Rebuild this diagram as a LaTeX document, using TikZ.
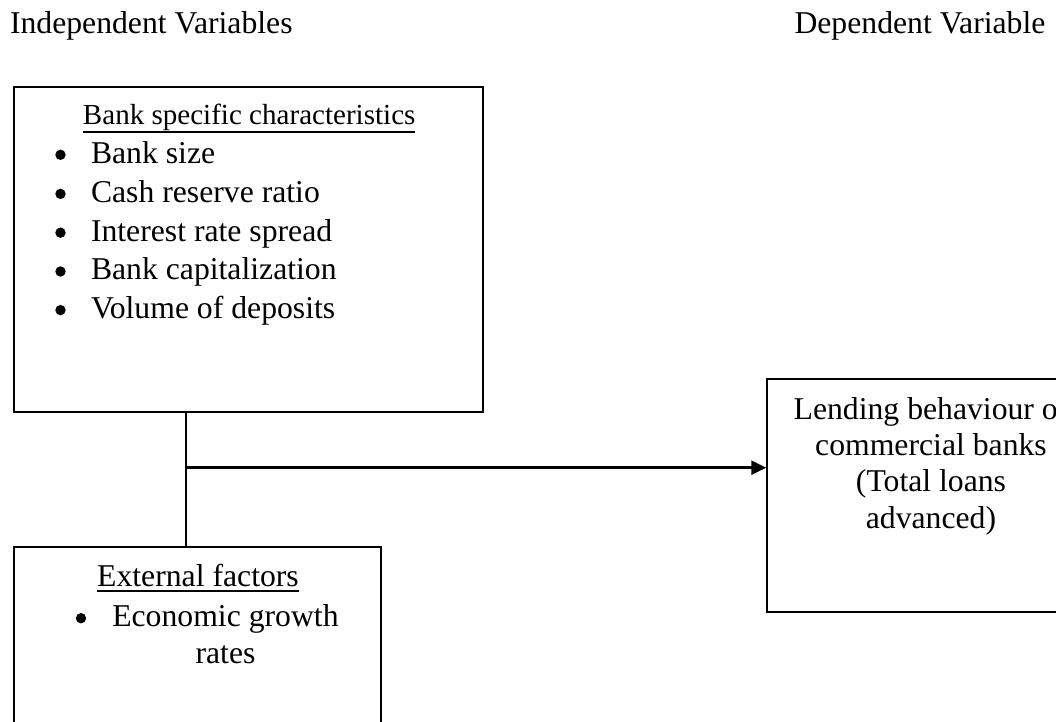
\documentclass[tikz,border=0pt]{standalone}
\usepackage{fontspec}
\setmainfont{Liberation Serif}
\usetikzlibrary{arrows.meta,fit}
\begin{document}
\begin{tikzpicture}[x=0.3785pt,y=-0.3785pt,
  box/.style={draw,line width=0.75pt,inner sep=0pt},
  txt/.style={inner sep=0pt,outer sep=0pt,font=\fontsize{12}{14}\selectfont},
  ttl/.style={inner sep=0pt,outer sep=0pt,font=\fontsize{11}{13}\selectfont},
  uline/.style={line width=0.6pt},
  link/.style={line width=0.75pt},
  arr/.style={line width=1pt,-{Triangle[length=5.7pt,width=5.3pt]}},
  bul/.style={fill=black}]
\clip (0,0) rectangle (1056,722);
\fill[white] (0,0) rectangle (1056,722);
% headers
\node[txt,anchor=base west] (h1) at (10,33.3) {Independent Variables};
\node[txt,anchor=base west] (h2) at (794.5,33.3) {Dependent Variable};
% boxes
\coordinate (b1a) at (14,87);      \coordinate (b1b) at (483,412);
\coordinate (b2a) at (14,547);     \coordinate (b2b) at (381,790);
\coordinate (b3a) at (767.3,379.3); \coordinate (b3b) at (1094.7,611.7);
\node[box,fit=(b1a)(b1b)] (b1) {};
\node[box,fit=(b2a)(b2b)] (b2) {};
\node[box,fit=(b3a)(b3b)] (b3) {};
% connectors
\coordinate (j) at (186,467.7);
\draw[link] (b1.south -| j) -- (b2.north -| j);
\draw[arr] (j) -- (j -| b3.west);
% box 1 text
\node[ttl,anchor=base] (t1) at (249.2,124.5) {Bank specific characteristics};
\draw[uline] ([yshift=-2.9pt]t1.base west) -- ([yshift=-2.9pt]t1.base east);
\foreach \t/\yy [count=\i] in {Bank size/163.3, Cash reserve ratio/202.4, Interest rate spread/241.2, Bank capitalization/280.0, Volume of deposits/318.6}{
  \node[txt,anchor=base west] (i\i) at (91,\yy) {\t};
  \fill[bul] (60.5,\yy-8.5) circle[radius=5.2];
}
% box 2 text
\node[txt,anchor=base] (t2) at (198,586.7) {External factors};
\draw[uline] ([yshift=-1.6pt]t2.base west) -- ([yshift=-1.6pt]t2.base east);
\fill[bul] (81,618.2) circle[radius=5.2];
\node[txt,anchor=base west] (e1) at (112.3,626.7) {Economic growth};
\node[txt,anchor=base] (e2) at (225.5,663.3) {rates};
% box 3 text
\node[txt,anchor=base] (l1) at (931,419.5) {Lending behaviour of};
\node[txt,anchor=base] (l2) at (931,455.5) {commercial banks};
\node[txt,anchor=base] (l3) at (931,492) {(Total loans};
\node[txt,anchor=base] (l4) at (931,529) {advanced)};
\end{tikzpicture}
\end{document}
